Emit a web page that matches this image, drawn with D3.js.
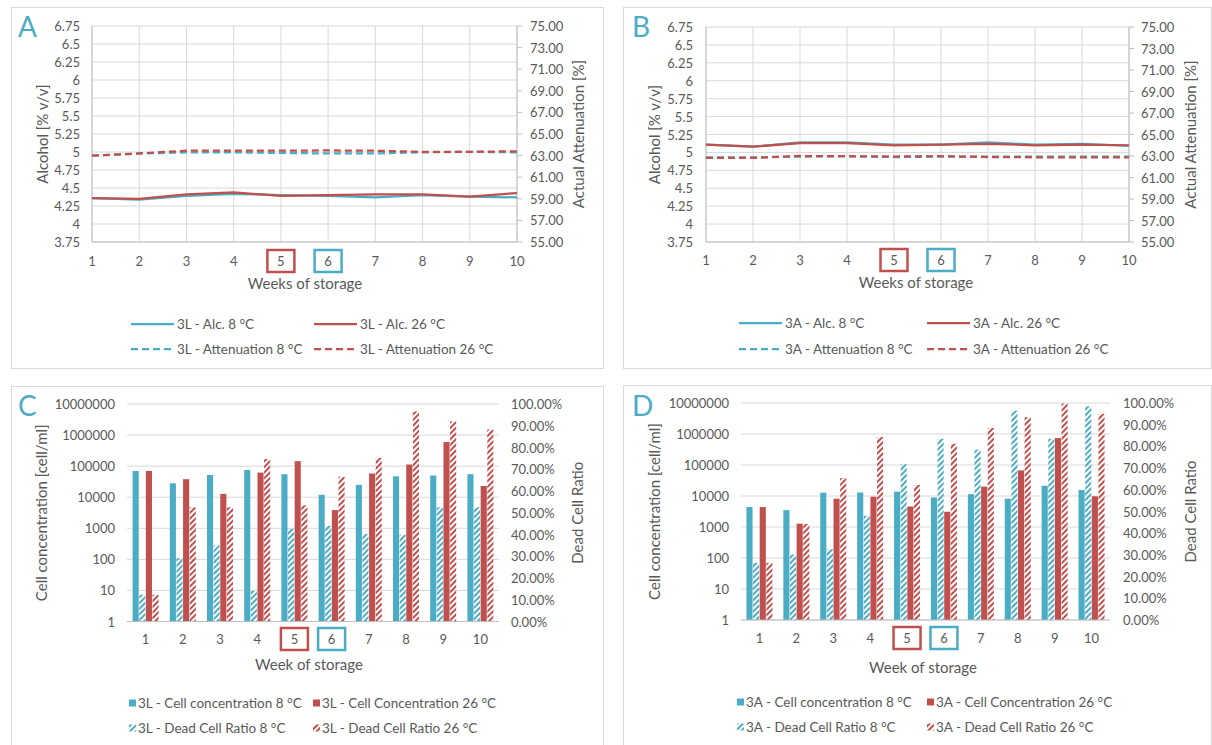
<!DOCTYPE html>
<html>
<head>
<meta charset="utf-8">
<script src="https://cdn.jsdelivr.net/npm/d3@7"></script>
<style>
body { margin: 0; background: #fff; }
svg text { font-family: Lato, "Open Sans", sans-serif; fill: #595959; }
</style>
</head>
<body>
<div id="vis"></div>
<script>
// data
const WEEKS = [1, 2, 3, 4, 5, 6, 7, 8, 9, 10];

// A - 3L alcohol / attenuation
const ALC_3L_8 = [4.36, 4.34, 4.39, 4.42, 4.40, 4.39, 4.37, 4.40, 4.38, 4.37];
const ALC_3L_26 = [4.36, 4.35, 4.41, 4.44, 4.39, 4.40, 4.41, 4.41, 4.38, 4.43];
const ATT_3L_8 = [63.0, 63.2, 63.3, 63.3, 63.25, 63.2, 63.2, 63.3, 63.35, 63.3];
const ATT_3L_26 = [63.0, 63.2, 63.45, 63.45, 63.45, 63.48, 63.45, 63.35, 63.35, 63.4];

// B - 3A alcohol / attenuation
const ALC_3A_8 = [5.11, 5.08, 5.14, 5.14, 5.11, 5.11, 5.14, 5.11, 5.12, 5.09];
const ALC_3A_26 = [5.11, 5.08, 5.13, 5.13, 5.10, 5.11, 5.12, 5.10, 5.11, 5.10];
const ATT_3A_8 = [62.88, 62.88, 62.95, 62.98, 62.9, 62.95, 62.95, 62.95, 62.95, 62.95];
const ATT_3A_26 = [62.82, 62.82, 63.0, 62.98, 62.95, 62.98, 62.9, 62.88, 62.88, 62.88];

// C - 3L cells
const CELL_3L_8 = [70000, 28000, 52000, 75000, 55000, 12000, 25000, 47000, 50000, 55000];
const CELL_3L_26 = [70000, 38000, 12800, 62000, 145000, 3850, 58000, 113000, 600000, 23000];
const DEAD_3L_8 = [0.123, 0.291, 0.35, 0.141, 0.426, 0.44, 0.402, 0.399, 0.525, 0.525];
const DEAD_3L_26 = [0.123, 0.525, 0.525, 0.747, 0.534, 0.666, 0.752, 0.966, 0.92, 0.883];

// D - 3A cells
const CELL_3A_8 = [4400, 3500, 12800, 13000, 13800, 9000, 11500, 8200, 21500, 15600];
const CELL_3A_26 = [4400, 1280, 8200, 9500, 4600, 3100, 20000, 67000, 740000, 9800];
const DEAD_3A_8 = [0.263, 0.302, 0.326, 0.48, 0.718, 0.835, 0.785, 0.965, 0.835, 0.985];
const DEAD_3A_26 = [0.263, 0.443, 0.654, 0.843, 0.622, 0.812, 0.885, 0.935, 0.997, 0.95];

// axis ticks
const ALC_TICKS = [3.75, 4, 4.25, 4.5, 4.75, 5, 5.25, 5.5, 5.75, 6, 6.25, 6.5, 6.75];
const ATT_TICKS = [55, 57, 59, 61, 63, 65, 67, 69, 71, 73, 75];
const CELL_TICKS = [1, 10, 100, 1000, 10000, 100000, 1000000, 10000000];
const DEAD_TICKS = [0, 0.1, 0.2, 0.3, 0.4, 0.5, 0.6, 0.7, 0.8, 0.9, 1.0];

const BLUE = "#4bacc6";
const RED = "#c0504d";
const GRID = "#d9d9d9";
const AXIS = "#bfbfbf";

const SVG = d3.select("#vis")
  .append("svg")
    .attr("width", 1212)
    .attr("height", 745);

// hatch patterns
const DEFS = SVG.append("defs");
[["hatchBlue", BLUE], ["hatchRed", RED]].forEach(([id, col]) => {
  DEFS.append("pattern")
      .attr("id", id)
      .attr("patternUnits", "userSpaceOnUse")
      .attr("width", 4)
      .attr("height", 4)
      .attr("patternTransform", "rotate(45)")
    .append("rect")
      .attr("width", 2)
      .attr("height", 4)
      .attr("fill", col);
});

function frame(f, letter) {
  SVG.append("rect")
      .attr("x", f.x + 0.5).attr("y", f.y + 0.5)
      .attr("width", f.w).attr("height", f.h)
      .attr("fill", "none").attr("stroke", GRID);
  SVG.append("text")
      .attr("x", f.lx).attr("y", f.ly)
      .attr("font-size", "28px")
      .style("fill", BLUE)
      .text(letter);
}

function weekBoxes(g, xPos, y) {
  [[5, RED], [6, BLUE]].forEach(([w, col]) => {
    g.append("rect")
        .attr("x", xPos(w) - 13.5).attr("y", y - 11)
        .attr("width", 27).attr("height", 22)
        .attr("fill", "none").attr("stroke", col).attr("stroke-width", 2.5);
  });
}

function sideTitles(p, leftText, rightText) {
  const cy = (p.t + p.b) / 2;
  SVG.append("text")
      .attr("transform", "translate(" + p.ltx + "," + cy + ") rotate(-90)")
      .attr("text-anchor", "middle").attr("dominant-baseline", "central")
      .attr("font-size", "15px")
      .text(leftText);
  SVG.append("text")
      .attr("transform", "translate(" + p.rtx + "," + cy + ") rotate(-90)")
      .attr("text-anchor", "middle").attr("dominant-baseline", "central")
      .attr("font-size", "15px")
      .text(rightText);
}

// line panel
function linePanel(p, series, prefix) {
  const X = d3.scaleLinear().domain([1, 10]).range([p.l, p.r]);
  const YL = d3.scaleLinear().domain([3.75, 6.75]).range([p.b, p.t]);
  const YR = d3.scaleLinear().domain([55, 75]).range([p.b, p.t]);
  const g = SVG.append("g");

  // grid
  g.selectAll(".hg").data(ALC_TICKS).enter().append("line")
      .attr("x1", p.l).attr("x2", p.r)
      .attr("y1", (d) => YL(d)).attr("y2", (d) => YL(d))
      .attr("stroke", GRID);
  g.selectAll(".vg").data(WEEKS).enter().append("line")
      .attr("x1", (d) => X(d)).attr("x2", (d) => X(d))
      .attr("y1", p.t).attr("y2", p.b)
      .attr("stroke", GRID);

  // axes
  g.append("line").attr("x1", p.l).attr("x2", p.l).attr("y1", p.t).attr("y2", p.b).attr("stroke", AXIS);
  g.append("line").attr("x1", p.r).attr("x2", p.r).attr("y1", p.t).attr("y2", p.b).attr("stroke", AXIS);
  g.append("line").attr("x1", p.l).attr("x2", p.r).attr("y1", p.b).attr("y2", p.b).attr("stroke", AXIS);
  g.selectAll(".rt").data(ATT_TICKS).enter().append("line")
      .attr("x1", p.r).attr("x2", p.r + 5)
      .attr("y1", (d) => YR(d)).attr("y2", (d) => YR(d))
      .attr("stroke", AXIS);

  g.selectAll(".lt").data(ALC_TICKS).enter().append("text")
      .attr("x", p.llx).attr("y", (d) => YL(d))
      .attr("text-anchor", "end").attr("dominant-baseline", "central")
      .attr("font-size", "13px")
      .text((d) => d3.format("")(d));
  g.selectAll(".rtl").data(ATT_TICKS).enter().append("text")
      .attr("x", p.rlx).attr("y", (d) => YR(d))
      .attr("dominant-baseline", "central")
      .attr("font-size", "13px")
      .text((d) => d3.format(".2f")(d));
  g.selectAll(".xt").data(WEEKS).enter().append("text")
      .attr("x", (d) => X(d)).attr("y", p.xly)
      .attr("text-anchor", "middle").attr("dominant-baseline", "central")
      .attr("font-size", "13px")
      .text((d) => d);
  weekBoxes(g, X, p.xly);

  g.append("text")
      .attr("x", p.xtx).attr("y", p.xty)
      .attr("text-anchor", "middle").attr("dominant-baseline", "central")
      .attr("font-size", "15px")
      .text("Weeks of storage");
  sideTitles(p, "Alcohol [% v/v]", "Actual Attenuation [%]");

  // lines
  series.forEach((s) => {
    const Y = s.axis === "left" ? YL : YR;
    const line = d3.line().x((d, i) => X(WEEKS[i])).y((d) => Y(d));
    g.append("path")
        .datum(s.values)
        .attr("d", line)
        .attr("fill", "none")
        .attr("stroke", s.color)
        .attr("stroke-width", 2.25)
        .attr("stroke-dasharray", s.dash ? "7,4" : null);
  });

  // legend
  series.forEach((s, i) => {
    const lx = i % 2 === 0 ? p.leg1 : p.leg2;
    const ly = i < 2 ? p.legy1 : p.legy2;
    g.append("line")
        .attr("x1", lx).attr("x2", lx + 43)
        .attr("y1", ly).attr("y2", ly)
        .attr("stroke", s.color).attr("stroke-width", 2.25)
        .attr("stroke-dasharray", s.dash ? "7,4" : null);
    g.append("text")
        .attr("x", lx + 46).attr("y", ly)
        .attr("dominant-baseline", "central")
        .attr("font-size", "13.5px")
        .text(prefix + s.name);
  });
}

// bar panel
function barPanel(p, series, prefix) {
  const X = d3.scaleBand().domain(WEEKS).range([p.l, p.r]);
  const YL = d3.scaleLog().domain([1, 10000000]).range([p.b, p.t]);
  const YR = d3.scaleLinear().domain([0, 1]).range([p.b, p.t]);
  const INNER = d3.scaleBand().domain([0, 1, 2, 3]).range([-13, 13]).paddingInner(0.08);
  const g = SVG.append("g");

  g.selectAll(".hg").data(CELL_TICKS).enter().append("line")
      .attr("x1", p.l).attr("x2", p.r)
      .attr("y1", (d) => YL(d)).attr("y2", (d) => YL(d))
      .attr("stroke", GRID);

  g.selectAll(".lt").data(CELL_TICKS).enter().append("text")
      .attr("x", p.llx).attr("y", (d) => YL(d))
      .attr("text-anchor", "end").attr("dominant-baseline", "central")
      .attr("font-size", "13px")
      .text((d) => d);
  g.selectAll(".rtl").data(DEAD_TICKS).enter().append("text")
      .attr("x", p.rlx).attr("y", (d) => YR(d))
      .attr("dominant-baseline", "central")
      .attr("font-size", "13px")
      .text((d) => d3.format(".2%")(d));

  // within each week: cell 8, dead 8, cell 26, dead 26
  series.forEach((s, k) => {
    const Y = s.axis === "left" ? YL : YR;
    g.selectAll(".bar" + k).data(s.values).enter().append("rect")
        .attr("x", (d, i) => X(WEEKS[i]) + X.bandwidth() / 2 + INNER(s.slot))
        .attr("y", (d) => Y(d))
        .attr("width", INNER.bandwidth())
        .attr("height", (d) => p.b - Y(d))
        .attr("fill", s.fill);
  });

  g.append("line").attr("x1", p.l).attr("x2", p.r).attr("y1", p.b).attr("y2", p.b).attr("stroke", AXIS);

  const XC = (w) => X(w) + X.bandwidth() / 2;
  g.selectAll(".xt").data(WEEKS).enter().append("text")
      .attr("x", (d) => XC(d)).attr("y", p.xly)
      .attr("text-anchor", "middle").attr("dominant-baseline", "central")
      .attr("font-size", "13px")
      .text((d) => d);
  weekBoxes(g, XC, p.xly);

  g.append("text")
      .attr("x", p.xtx).attr("y", p.xty)
      .attr("text-anchor", "middle").attr("dominant-baseline", "central")
      .attr("font-size", "15px")
      .text("Week of storage");
  sideTitles(p, "Cell concentration [cell/ml]", "Dead Cell Ratio");

  // legend
  series.forEach((s, i) => {
    const lx = i % 2 === 0 ? p.leg1 : p.leg2;
    const ly = i < 2 ? p.legy1 : p.legy2;
    g.append("rect")
        .attr("x", lx).attr("y", ly - 3.5)
        .attr("width", 7).attr("height", 7)
        .attr("fill", s.fill);
    g.append("text")
        .attr("x", lx + 9).attr("y", ly)
        .attr("dominant-baseline", "central")
        .attr("font-size", "13.5px")
        .text(prefix + s.name);
  });
}

// panel A
frame({x: 11, y: 7, w: 592, h: 361, lx: 18, ly: 37}, "A");
linePanel({l: 92, r: 517, t: 26, b: 242, llx: 80, rlx: 530, ltx: 42, rtx: 578,
           xly: 261, xtx: 305, xty: 283, leg1: 131, leg2: 314, legy1: 324, legy2: 349}, [
  {name: "Alc. 8 °C", values: ALC_3L_8, color: BLUE, axis: "left", dash: false},
  {name: "Alc. 26 °C", values: ALC_3L_26, color: RED, axis: "left", dash: false},
  {name: "Attenuation 8 °C", values: ATT_3L_8, color: BLUE, axis: "right", dash: true},
  {name: "Attenuation 26 °C", values: ATT_3L_26, color: RED, axis: "right", dash: true}
], "3L - ");

// panel B
frame({x: 623, y: 7, w: 588, h: 361, lx: 632, ly: 37}, "B");
linePanel({l: 706, r: 1129, t: 27, b: 242, llx: 693, rlx: 1141, ltx: 654, rtx: 1190,
           xly: 260, xtx: 916, xty: 282, leg1: 739, leg2: 927, legy1: 323, legy2: 349}, [
  {name: "Alc. 8 °C", values: ALC_3A_8, color: BLUE, axis: "left", dash: false},
  {name: "Alc. 26 °C", values: ALC_3A_26, color: RED, axis: "left", dash: false},
  {name: "Attenuation 8 °C", values: ATT_3A_8, color: BLUE, axis: "right", dash: true},
  {name: "Attenuation 26 °C", values: ATT_3A_26, color: RED, axis: "right", dash: true}
], "3A - ");

// panel C
frame({x: 11, y: 386, w: 592, h: 365, lx: 18, ly: 416}, "C");
barPanel({l: 127, r: 499, t: 404, b: 621.5, llx: 115, rlx: 511, ltx: 41, rtx: 577,
          xly: 639, xtx: 309, xty: 664, leg1: 129, leg2: 313, legy1: 703, legy2: 728}, [
  {name: "Cell concentration 8 °C", values: CELL_3L_8, fill: BLUE, axis: "left", slot: 0},
  {name: "Cell Concentration 26 °C", values: CELL_3L_26, fill: RED, axis: "left", slot: 2},
  {name: "Dead Cell Ratio 8 °C", values: DEAD_3L_8, fill: "url(#hatchBlue)", axis: "right", slot: 1},
  {name: "Dead Cell Ratio 26 °C", values: DEAD_3L_26, fill: "url(#hatchRed)", axis: "right", slot: 3}
], "3L - ");

// panel D
frame({x: 623, y: 385, w: 588, h: 365, lx: 632, ly: 416}, "D");
barPanel({l: 741, r: 1110, t: 403, b: 620, llx: 729, rlx: 1123, ltx: 654, rtx: 1190,
          xly: 638, xtx: 923, xty: 667, leg1: 737, leg2: 927, legy1: 702, legy2: 727}, [
  {name: "Cell concentration 8 °C", values: CELL_3A_8, fill: BLUE, axis: "left", slot: 0},
  {name: "Cell Concentration 26 °C", values: CELL_3A_26, fill: RED, axis: "left", slot: 2},
  {name: "Dead Cell Ratio 8 °C", values: DEAD_3A_8, fill: "url(#hatchBlue)", axis: "right", slot: 1},
  {name: "Dead Cell Ratio 26 °C", values: DEAD_3A_26, fill: "url(#hatchRed)", axis: "right", slot: 3}
], "3A - ");
</script>
</body>
</html>
